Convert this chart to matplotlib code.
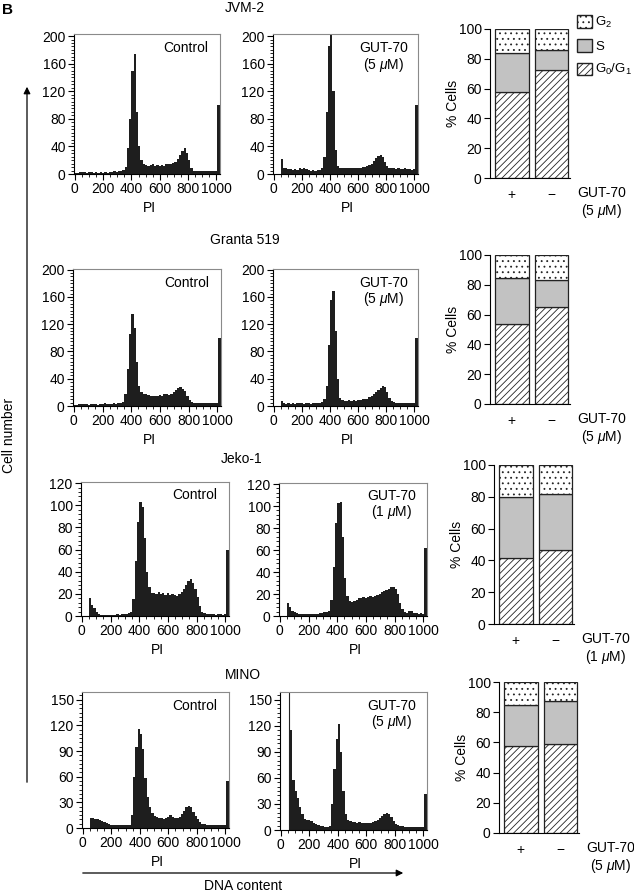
import numpy as np
import matplotlib
matplotlib.use('Agg')
import matplotlib.pyplot as plt
from matplotlib.patches import Patch, FancyArrowPatch
from matplotlib.ticker import MultipleLocator

plt.rcParams['font.family'] = ['Liberation Sans', 'DejaVu Sans']
plt.rcParams['font.size'] = 10
plt.rcParams['mathtext.fontset'] = 'custom'
plt.rcParams['mathtext.rm'] = 'Liberation Sans'
plt.rcParams['mathtext.it'] = 'Liberation Sans:italic'
plt.rcParams['hatch.linewidth'] = 0.6

# ---- data ----
cell_lines = ['JVM-2', 'Granta 519', 'Jeko-1', 'MINO']
gut_dose = ['5', '5', '1', '5']
treatment = ['+', '\u2212']
phase_labels = ['G$_2$', 'S', 'G$_0$/G$_1$']

# % cells per phase, [GUT-70 +, GUT-70 -]
g0g1_pct = [[58, 72.5], [53.5, 65], [41.5, 46.5], [57.5, 59]]
s_pct = [[26, 13.5], [31, 18.5], [38.5, 35.5], [27.5, 28.5]]
g2_pct = [[16, 14], [15.5, 16.5], [20, 18], [15, 12.5]]

# PI histograms, 16-channel bins starting at channel 0 (64 bins)
bin_width = 16
bin_edges = np.arange(0, 1024 + bin_width, bin_width)

hist_jvm2_ctrl = [1, 2, 3, 3, 3, 2, 3, 3, 2, 3, 2, 3,
                  2, 3, 2, 3, 3, 4, 3, 4, 5, 6,
                  10, 38, 80, 150, 174, 90, 40, 20,
                  15, 13, 12, 13, 14, 12, 13, 12, 13, 12,
                  14, 15, 14, 16, 18, 22, 27, 33, 38, 31,
                  20, 9, 5, 4, 5, 4, 4, 5, 4, 4,
                  4, 5, 4, 100]
hist_jvm2_gut = [0, 0, 0, 22, 9, 8, 7, 7, 6, 7, 6, 8,
                 7, 8, 7, 6, 5, 6, 5, 6, 6, 8,
                 25, 90, 185, 215, 120, 35, 12, 9,
                 8, 9, 8, 9, 8, 9, 9, 8, 9, 10,
                 10, 11, 13, 15, 19, 23, 26, 27, 24, 17,
                 11, 9, 8, 8, 7, 8, 7, 7, 8, 7,
                 7, 6, 7, 100]
hist_granta_ctrl = [1, 2, 3, 3, 3, 3, 2, 3, 3, 3, 2, 3,
                    3, 4, 3, 3, 3, 4, 3, 4, 4, 6,
                    18, 55, 105, 135, 115, 65, 30, 20,
                    18, 17, 16, 15, 15, 14, 15, 16, 15, 17,
                    17, 16, 18, 20, 24, 27, 28, 25, 22, 15,
                    9, 6, 5, 5, 5, 4, 5, 4, 5, 4,
                    5, 4, 5, 100]
hist_granta_gut = [0, 0, 0, 7, 4, 3, 4, 3, 4, 3, 4, 4,
                   4, 3, 4, 4, 3, 4, 4, 5, 5, 6,
                   10, 30, 90, 155, 168, 110, 40, 12,
                   9, 8, 8, 9, 8, 9, 8, 9, 9, 10,
                   10, 11, 13, 15, 17, 20, 23, 27, 30, 28,
                   21, 12, 7, 6, 5, 5, 4, 5, 4, 4,
                   4, 5, 4, 100]
hist_jeko_ctrl = [0, 0, 0, 16, 10, 7, 4, 2, 1, 1, 1, 1,
                  1, 1, 1, 2, 1, 2, 2, 2, 3, 4,
                  15, 50, 85, 103, 98, 70, 40, 26,
                  21, 21, 20, 22, 20, 21, 19, 21, 19, 20,
                  19, 18, 20, 22, 24, 28, 32, 33, 30, 24,
                  17, 9, 4, 3, 2, 2, 2, 2, 1, 2,
                  2, 1, 2, 60]
hist_jeko_gut = [0, 0, 0, 12, 8, 5, 4, 3, 2, 2, 2, 2,
                 2, 2, 2, 2, 2, 3, 3, 4, 4, 5,
                 15, 45, 85, 103, 104, 72, 35, 18,
                 14, 13, 14, 15, 16, 16, 17, 16, 17, 18,
                 17, 18, 19, 20, 22, 23, 24, 25, 26, 26,
                 25, 20, 12, 6, 4, 3, 5, 5, 3, 3,
                 2, 3, 2, 62]
hist_mino_ctrl = [0, 0, 0, 12, 12, 11, 10, 9, 8, 7, 6, 5,
                  4, 4, 3, 4, 3, 4, 3, 3, 3, 15,
                  60, 95, 116, 110, 92, 58, 36, 24,
                  18, 14, 13, 12, 12, 11, 12, 13, 15, 13,
                  12, 12, 13, 16, 20, 24, 26, 24, 19, 14,
                  10, 7, 5, 5, 4, 4, 3, 4, 3, 3,
                  3, 4, 3, 55]
hist_mino_gut = [0, 0, 0, 0, 115, 58, 45, 37, 27, 18, 13, 12,
                 11, 10, 8, 7, 6, 5, 5, 4, 4, 5,
                 30, 70, 105, 122, 90, 45, 18, 12,
                 10, 9, 9, 8, 9, 8, 8, 8, 8, 8,
                 9, 10, 12, 14, 16, 19, 20, 18, 15, 10,
                 7, 6, 5, 5, 4, 4, 4, 4, 3, 4,
                 3, 3, 3, 42]
mino_gate = 60

hist_ctrl = [hist_jvm2_ctrl, hist_granta_ctrl, hist_jeko_ctrl, hist_mino_ctrl]
hist_gut = [hist_jvm2_gut, hist_granta_gut, hist_jeko_gut, hist_mino_gut]
hist_ymax = [203, 201, 121, 159]
hist_ymajor = [40, 40, 20, 30]
hist_yminor = [5, 5, 4, 5]

# ---- layout (pixels in the 634x894 picture) ----
W, H = 634, 894
ctrl_box = [(74, 34, 220, 174), (73, 269, 221, 406), (81, 482, 229, 616), (82, 692, 229, 828)]
gut_box = [(273, 34, 418, 174), (273, 269, 418, 406), (279, 483, 427, 616), (280, 692, 427, 830)]
bar_box = [(490, 29, 570, 178), (490, 255, 570, 404), (494, 465, 574, 624), (499, 682, 579, 833)]
title_pos = [(245, 8), (245, 240), (242, 459), (243, 675)]


def rect(b):
    x0, y0, x1, y1 = b
    return [x0 / W, 1 - y1 / H, (x1 - x0) / W, (y1 - y0) / H]


def ftext(x, y, s, **kw):
    fig.text(x / W, 1 - y / H, s, **kw)


fig = plt.figure(figsize=(6.34, 8.94), dpi=100)

for r in range(4):
    for b, counts, kind in [(ctrl_box[r], hist_ctrl[r], 'ctrl'), (gut_box[r], hist_gut[r], 'gut')]:
        ax = fig.add_axes(rect(b))
        ax.stairs(counts, bin_edges, fill=True, color='#1e1e1e', linewidth=0)
        ax.set_xlim(-6, 1026)
        ax.set_ylim(0, hist_ymax[r])
        ax.xaxis.set_major_locator(MultipleLocator(200))
        ax.xaxis.set_minor_locator(MultipleLocator(50))
        ax.yaxis.set_major_locator(MultipleLocator(hist_ymajor[r]))
        ax.yaxis.set_minor_locator(MultipleLocator(hist_yminor[r]))
        ax.tick_params(which='major', direction='out', length=4, width=0.8, labelsize=10, pad=2)
        ax.tick_params(which='minor', direction='out', length=2, width=0.6)
        for s in ['top', 'right']:
            ax.spines[s].set_color('#8a8a8a')
            ax.spines[s].set_linewidth(0.8)
        for s in ['left', 'bottom']:
            ax.spines[s].set_linewidth(0.8)
        if kind == 'ctrl':
            ax.text(0.92, 0.9, 'Control', transform=ax.transAxes, ha='right', va='center')
        else:
            ax.text(0.76, 0.9, 'GUT-70', transform=ax.transAxes, ha='center', va='center')
            ax.text(0.76, 0.78, '(%s $\\mu$M)' % gut_dose[r], transform=ax.transAxes,
                    ha='center', va='center')
            if r == 3:
                ax.axvline(mino_gate, color='#222222', lw=0.8)
        ftext((b[0] + b[2]) / 2 + 2, b[3] + 34, 'PI', ha='center', va='center')

    # cell cycle bar chart
    bb = bar_box[r]
    ax = fig.add_axes(rect(bb))
    pos = np.arange(2)
    g01 = np.array(g0g1_pct[r])
    sp = np.array(s_pct[r])
    g2 = np.array(g2_pct[r])
    ax.bar(pos, g01, width=0.85, color='white', hatch='/////', edgecolor='#222222', lw=0.9)
    ax.bar(pos, sp, bottom=g01, width=0.85, color='#c2c2c2', edgecolor='#222222', lw=0.9)
    ax.bar(pos, g2, bottom=g01 + sp, width=0.85, color='white', hatch='...', edgecolor='#222222', lw=0.9)
    ax.set_xlim(-0.552, 1.473)
    ax.set_ylim(0, 100)
    ax.yaxis.set_major_locator(MultipleLocator(20))
    ax.set_xticks(pos)
    ax.set_xticklabels(treatment)
    ax.tick_params(axis='x', length=0, pad=7, labelsize=10)
    ax.tick_params(axis='y', direction='out', length=4, width=0.8, labelsize=10, pad=2)
    ax.spines['top'].set_visible(False)
    ax.spines['right'].set_visible(False)
    ax.spines['left'].set_linewidth(0.8)
    ax.spines['bottom'].set_linewidth(0.8)
    ftext(bb[0] - 37, (bb[1] + bb[3]) / 2, '% Cells', rotation=90, ha='center', va='center')
    ftext(bb[2] + 7, bb[3] + 15, 'GUT-70', ha='left', va='center')
    ftext(bb[2] + 32, bb[3] + 33, '(%s $\\mu$M)' % gut_dose[r], ha='center', va='center')
    if r == 0:
        ax.legend([Patch(facecolor='white', hatch='...', edgecolor='#222222'),
                   Patch(facecolor='#c2c2c2', edgecolor='#222222'),
                   Patch(facecolor='white', hatch='/////', edgecolor='#222222')],
                  phase_labels, loc='upper left', bbox_to_anchor=(577 / W, 1 - 15 / H),
                  bbox_transform=fig.transFigure, frameon=False, borderpad=0,
                  borderaxespad=0, handlelength=1.1, handleheight=1.05,
                  labelspacing=0.7, handletextpad=0.3, fontsize=9.5)

    tx, ty = title_pos[r]
    ftext(tx, ty, cell_lines[r], ha='center', va='center')

# panel letter and axis arrows
ftext(2, 10, 'B', ha='left', va='center', fontweight='bold', fontsize=11)
fig.add_artist(FancyArrowPatch(
    (27 / W, 1 - 785 / H), (27 / W, 1 - 84 / H), transform=fig.transFigure,
    arrowstyle='-|>', mutation_scale=10, color='black', lw=0.9))
fig.add_artist(FancyArrowPatch(
    (80 / W, 1 - 873 / H), (406 / W, 1 - 873 / H), transform=fig.transFigure,
    arrowstyle='-|>', mutation_scale=10, color='black', lw=0.9))
ftext(9, 435, 'Cell number', rotation=90, ha='center', va='center')
ftext(243, 886, 'DNA content', ha='center', va='center')

fig.savefig('out.png', dpi=100)
